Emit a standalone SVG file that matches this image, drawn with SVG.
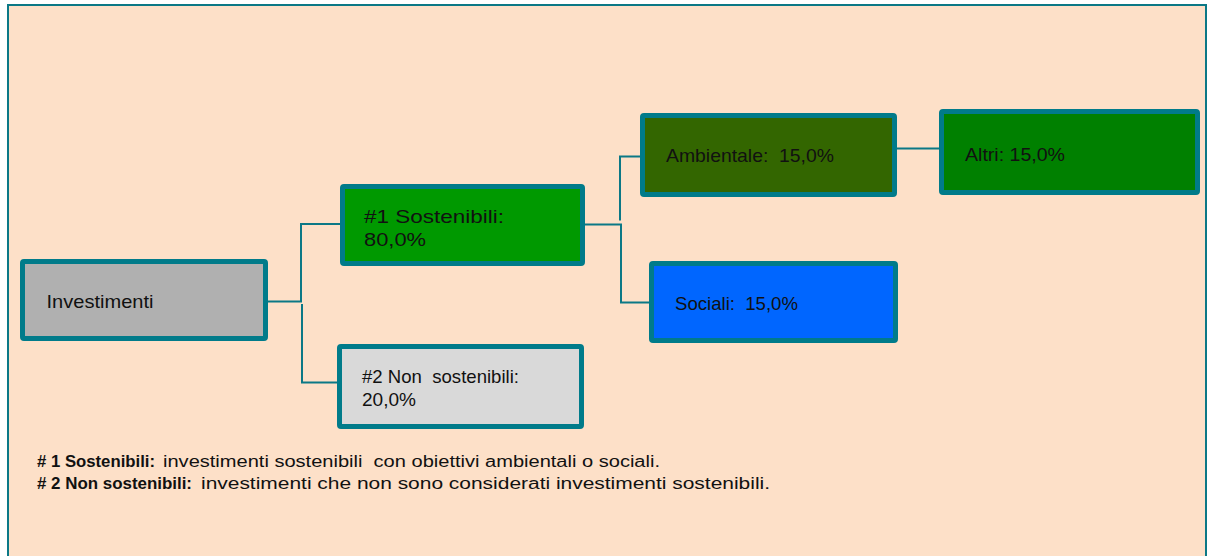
<svg xmlns="http://www.w3.org/2000/svg" width="1211" height="556" viewBox="0 0 1211 556">
<style>
.frame{fill:#FDE0C8;stroke:#0B7886;stroke-width:2}
.box{stroke:#007B8A;stroke-width:5}
.conn{fill:none;stroke:#0B7886;stroke-width:2}
.t{font-family:"Liberation Sans",Arial,sans-serif;font-size:19px;fill:#111;white-space:pre}
.f{font-family:"Liberation Sans",Arial,sans-serif;font-size:16px;fill:#111;white-space:pre}
.b{font-weight:bold}
</style>
<rect class="frame" x="8" y="5" width="1198" height="560"/>
<g id="connectors">
<path class="conn" d="M267,301.5 H301 V224 H341"/>
<path class="conn" d="M302,304 V382.5 H338"/>
<path class="conn" d="M585,224.5 H621 V302.5 H651"/>
<path class="conn" d="M620,220.5 V156.5 H652"/>
<path class="conn" d="M897,148.5 H940"/>
</g>
<g id="investimenti">
<rect class="box" x="22.5" y="261.5" width="243" height="77" rx="1.5" fill="#B0B0B0"/>
<text class="t" x="46.5" y="308" textLength="107" lengthAdjust="spacingAndGlyphs">Investimenti</text>
</g>
<g id="sostenibili">
<rect class="box" x="342.5" y="186.5" width="240" height="77" rx="1.5" fill="#009900"/>
<text class="t" x="364" y="223" font-size="20" textLength="140" lengthAdjust="spacingAndGlyphs">#1 Sostenibili:</text>
<text class="t" x="364" y="246" font-size="20" textLength="62" lengthAdjust="spacingAndGlyphs">80,0%</text>
</g>
<g id="non-sostenibili">
<rect class="box" x="339.5" y="346.5" width="242" height="80" rx="1.5" fill="#D9D9D9"/>
<text class="t" x="362" y="383" textLength="157" lengthAdjust="spacingAndGlyphs">#2 Non  sostenibili:</text>
<text class="t" x="362" y="406" textLength="54" lengthAdjust="spacingAndGlyphs">20,0%</text>
</g>
<g id="ambientale">
<rect class="box" x="642.5" y="115.5" width="252" height="79" rx="1.5" fill="#336600"/>
<text class="t" x="666" y="162" textLength="168" lengthAdjust="spacingAndGlyphs">Ambientale:  15,0%</text>
</g>
<g id="altri">
<rect class="box" x="941.5" y="111.5" width="256" height="81" rx="1.5" fill="#008000"/>
<text class="t" x="965" y="161" textLength="100" lengthAdjust="spacingAndGlyphs">Altri: 15,0%</text>
</g>
<g id="sociali">
<rect class="box" x="651.5" y="263.5" width="244" height="77" rx="1.5" fill="#0066FF"/>
<text class="t" x="675" y="310" textLength="123" lengthAdjust="spacingAndGlyphs">Sociali:  15,0%</text>
</g>
<g id="legend">
<text class="f b" x="37" y="467" textLength="118" lengthAdjust="spacingAndGlyphs"># 1 Sostenibili:</text>
<text class="f" x="163" y="467" textLength="497" lengthAdjust="spacingAndGlyphs">investimenti sostenibili  con obiettivi ambientali o sociali.</text>
<text class="f b" x="37" y="489" textLength="155" lengthAdjust="spacingAndGlyphs"># 2 Non sostenibili:</text>
<text class="f" x="201" y="489" textLength="569" lengthAdjust="spacingAndGlyphs">investimenti che non sono considerati investimenti sostenibili.</text>
</g>
</svg>
